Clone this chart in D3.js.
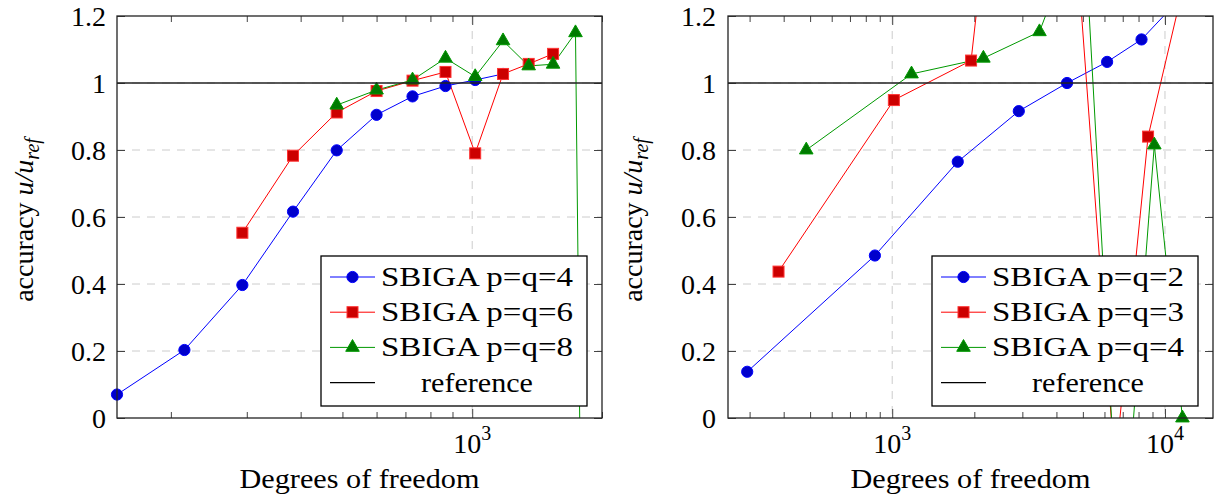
<!DOCTYPE html>
<html>
<head>
<meta charset="utf-8">
<script src="https://cdn.jsdelivr.net/npm/d3@7"></script>
<style>
  body { margin: 0; background: #fff; }
  text { font-family: "Liberation Serif", "Times New Roman", serif; fill: #000; }
</style>
</head>
<body>
<script>
// ---- left panel: p = q = 4, 6, 8 ----
var dofP4 = [150, 215, 293, 384, 485, 600, 727, 867, 1016, 1179];
var accP4 = [0.07, 0.203, 0.397, 0.616, 0.799, 0.905, 0.960, 0.991, 1.009, 1.027];
var dofP6 = [293, 384, 485, 600, 727, 867, 1016, 1179, 1352, 1540];
var accP6 = [0.553, 0.783, 0.912, 0.976, 1.007, 1.033, 0.790, 1.027, 1.057, 1.087];
var dofP8 = [485, 600, 727, 867, 1016, 1179, 1352, 1540, 1736, 1800];
var accP8 = [0.934, 0.979, 1.009, 1.074, 1.019, 1.126, 1.051, 1.056, 1.150, -0.70];

// ---- right panel: p = q = 2, 3, 4 ----
var dofP2 = [294, 864, 1739, 2911, 4375, 6136, 8204, 11000];
var accP2 = [0.138, 0.485, 0.765, 0.916, 1.000, 1.063, 1.130, 1.24];
var dofP3 = [383, 1014, 1946, 3476, 6553, 8670, 13000];
var accP3 = [0.437, 0.949, 1.067, 2.90, -0.15, 0.840, 1.45];
var dofP4b = [484, 1177, 2159, 3466, 5036, 6885, 9140, 11590];
var accP4b = [0.800, 1.027, 1.074, 1.153, 1.50, -0.50, 0.815, 0.0];

var leftLabels = ["SBIGA p=q=4", "SBIGA p=q=6", "SBIGA p=q=8", "reference"];
var rightLabels = ["SBIGA p=q=2", "SBIGA p=q=3", "SBIGA p=q=4", "reference"];
var yTicks = [0, 0.2, 0.4, 0.6, 0.8, 1, 1.2];
var yTickLabels = ["0", "0.2", "0.4", "0.6", "0.8", "1", "1.2"];
var refValue = 1;

var styles = [
  { line: "#0000ff", fill: "#0000cc", stroke: "#0000ff", mark: "circle" },
  { line: "#ff0000", fill: "#cc0000", stroke: "#ff3333", mark: "square" },
  { line: "#009900", fill: "#007a00", stroke: "#009900", mark: "triangle" }
];

function zipSeries(xs, ys) {
  return xs.map(function(d, i) { return { x: d, y: ys[i] }; });
}

var panels = [
  { left: 117, right: 602, xDomain: [150, 2000], decades: [1000],
    series: [zipSeries(dofP4, accP4), zipSeries(dofP6, accP6), zipSeries(dofP8, accP8)],
    labels: leftLabels, yLabelX: 33, tickLabelX: 106 },
  { left: 728, right: 1213, xDomain: [250, 15000], decades: [1000, 10000],
    series: [zipSeries(dofP2, accP2), zipSeries(dofP3, accP3), zipSeries(dofP4b, accP4b)],
    labels: rightLabels, yLabelX: 642, tickLabelX: 716 }
];

var W = 1226, H = 499;
var plotTop = 16, plotBottom = 418;

var svg = d3.select("body").append("svg")
    .attr("width", W)
    .attr("height", H);

function drawMark(g, kind, st) {
  if (kind === "circle") {
    g.append("circle").attr("r", 5.6).attr("fill", st.fill).attr("stroke", st.stroke);
  } else if (kind === "square") {
    g.append("rect").attr("x", -5.5).attr("y", -5.5).attr("width", 11).attr("height", 11)
        .attr("fill", st.fill).attr("stroke", st.stroke);
  } else {
    g.append("path").attr("d", d3.symbol(d3.symbolTriangle, 80)())
        .attr("fill", st.fill).attr("stroke", st.stroke);
  }
}

panels.forEach(function(p, pi) {
  var x = d3.scaleLog().domain(p.xDomain).range([p.left, p.right]);
  var y = d3.scaleLinear().domain([0, 1.2]).range([plotBottom, plotTop]);

  var clipId = "plotclip" + pi;
  svg.append("clipPath").attr("id", clipId)
    .append("rect")
      .attr("x", p.left).attr("y", plotTop)
      .attr("width", p.right - p.left).attr("height", plotBottom - plotTop);

  var g = svg.append("g");

  // dashed grid
  g.selectAll(".hgrid")
      .data(yTicks.filter(function(d) { return d > 0 && d < 1.2; }))
      .enter().append("line")
      .attr("x1", p.left).attr("x2", p.right)
      .attr("y1", function(d) { return y(d); })
      .attr("y2", function(d) { return y(d); })
      .attr("stroke", "#cccccc")
      .attr("stroke-dasharray", "8,7");

  g.selectAll(".vgrid")
      .data(p.decades)
      .enter().append("line")
      .attr("x1", function(d) { return x(d); })
      .attr("x2", function(d) { return x(d); })
      .attr("y1", plotTop).attr("y2", plotBottom)
      .attr("stroke", "#cccccc")
      .attr("stroke-dasharray", "8,7");

  // minor ticks: 2..9 times each power of ten inside the domain
  var minor = [];
  for (var k = 1; k <= 5; k++) {
    for (var m = 2; m <= 9; m++) {
      var v = m * Math.pow(10, k);
      if (v >= p.xDomain[0] && v <= p.xDomain[1]) minor.push(v);
    }
  }

  var axes = [
    { gen: d3.axisBottom, ty: plotBottom, minorLen: -6, majorLen: -9 },
    { gen: d3.axisTop, ty: plotTop, minorLen: -6, majorLen: -9 }
  ];
  axes.forEach(function(a) {
    [[minor, a.minorLen], [p.decades, a.majorLen]].forEach(function(t) {
      var ax = g.append("g")
          .attr("transform", "translate(0," + a.ty + ")")
          .call(a.gen(x).tickValues(t[0]).tickSize(t[1]).tickFormat(""));
      ax.select(".domain").remove();
      ax.selectAll("line").attr("stroke", "#444");
    });
  });

  [[d3.axisLeft, p.left], [d3.axisRight, p.right]].forEach(function(a) {
    var ax = g.append("g")
        .attr("transform", "translate(" + a[1] + ",0)")
        .call(a[0](y).tickValues(yTicks).tickSize(-8).tickFormat(""));
    ax.select(".domain").remove();
    ax.selectAll("line").attr("stroke", "#444");
  });

  // series lines, clipped to the plot area
  var line = d3.line()
      .x(function(d) { return x(d.x); })
      .y(function(d) { return y(d.y); });

  var plot = g.append("g").attr("clip-path", "url(#" + clipId + ")");
  p.series.forEach(function(s, si) {
    plot.append("path")
        .datum(s)
        .attr("d", line)
        .attr("fill", "none")
        .attr("stroke", styles[si].line)
        .attr("stroke-width", 1);
  });

  // markers (only those inside the axis range)
  p.series.forEach(function(s, si) {
    var inside = s.filter(function(d) {
      return d.y >= 0 && d.y <= 1.2 && d.x >= p.xDomain[0] * 0.99 && d.x <= p.xDomain[1];
    });
    inside.forEach(function(d) {
      var mg = g.append("g").attr("transform", "translate(" + x(d.x) + "," + y(d.y) + ")");
      drawMark(mg, styles[si].mark, styles[si]);
    });
  });

  // reference level
  g.append("line")
      .attr("x1", p.left).attr("x2", p.right)
      .attr("y1", y(refValue)).attr("y2", y(refValue))
      .attr("stroke", "#222")
      .attr("stroke-width", 1.3);

  // axis frame
  g.append("rect")
      .attr("x", p.left).attr("y", plotTop)
      .attr("width", p.right - p.left).attr("height", plotBottom - plotTop)
      .attr("fill", "none")
      .attr("stroke", "#222")
      .attr("stroke-width", 1.3);

  // y tick labels
  g.selectAll(".ylab")
      .data(yTicks)
      .enter().append("text")
      .attr("x", p.tickLabelX)
      .attr("y", function(d) { return y(d) + 10; })
      .attr("text-anchor", "end")
      .attr("font-size", 28)
      .text(function(d, i) { return yTickLabels[i]; });

  // x tick labels 10^k
  p.decades.forEach(function(d) {
    var t = g.append("text")
        .attr("x", x(d))
        .attr("y", 453)
        .attr("text-anchor", "middle")
        .attr("font-size", 28);
    t.append("tspan").text("10");
    t.append("tspan").attr("font-size", 20).attr("dy", -13).text(Math.round(Math.log10(d)));
  });

  // axis titles
  var cx = (p.left + p.right) / 2;
  g.append("text")
      .attr("x", cx)
      .attr("y", 488)
      .attr("text-anchor", "middle")
      .attr("font-size", 28)
      .attr("textLength", 240)
      .attr("lengthAdjust", "spacingAndGlyphs")
      .text("Degrees of freedom");

  var yl = g.append("text")
      .attr("transform", "translate(" + p.yLabelX + "," + ((plotTop + plotBottom) / 2 + 3) + ") rotate(-90)")
      .attr("text-anchor", "middle")
      .attr("font-size", 28);
  yl.append("tspan").text("accuracy ");
  yl.append("tspan").attr("font-style", "italic").text("u/u");
  yl.append("tspan").attr("font-style", "italic").attr("font-size", 20).attr("dy", 6).text("ref");

  // legend
  var lw = 266, lh = 150;
  var lx = p.right - 15 - lw, ly = plotBottom - 12 - lh;
  var lg = g.append("g").attr("transform", "translate(" + lx + "," + ly + ")");
  lg.append("rect")
      .attr("width", lw).attr("height", lh)
      .attr("fill", "#fff")
      .attr("stroke", "#000")
      .attr("stroke-width", 1.3);

  p.labels.forEach(function(lab, i) {
    var ry = 21 + i * 35.2;
    var st = styles[i];
    lg.append("line")
        .attr("x1", 9).attr("x2", 54)
        .attr("y1", ry).attr("y2", ry)
        .attr("stroke", st ? st.line : "#000")
        .attr("stroke-width", st ? 1 : 1.3);
    if (st) {
      var mg = lg.append("g").attr("transform", "translate(31.5," + ry + ")");
      drawMark(mg, st.mark, st);
    }
    var tx = lg.append("text")
        .attr("x", 156)
        .attr("y", ry + 9)
        .attr("text-anchor", "middle")
        .attr("font-size", 28)
        .text(lab);
    tx.attr("textLength", st ? 192 : 112).attr("lengthAdjust", "spacingAndGlyphs");
  });
});
</script>
</body>
</html>
